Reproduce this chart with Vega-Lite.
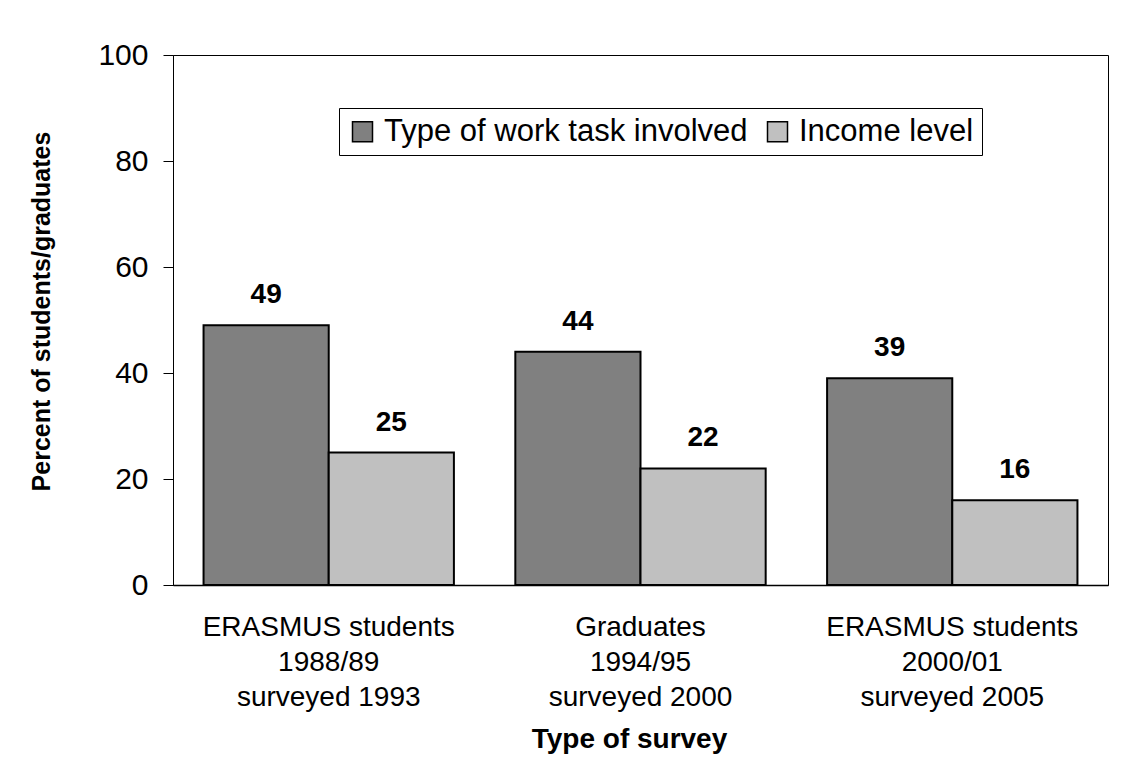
{
  "$schema": "https://vega.github.io/schema/vega-lite/v6.json",
  "autosize": {"type": "none"},
  "width": 935,
  "height": 530,
  "padding": {"left": 173, "top": 55, "right": 26, "bottom": 186},
  "background": "white",
  "config": {
    "font": "Liberation Sans",
    "view": {"stroke": "black", "strokeWidth": 1}
  },
  "data": {
    "values": [
      {"survey": "ERASMUS students|1988/89|surveyed 1993", "series": "Type of work task involved", "value": 49},
      {"survey": "ERASMUS students|1988/89|surveyed 1993", "series": "Income level", "value": 25},
      {"survey": "Graduates|1994/95|surveyed 2000", "series": "Type of work task involved", "value": 44},
      {"survey": "Graduates|1994/95|surveyed 2000", "series": "Income level", "value": 22},
      {"survey": "ERASMUS students|2000/01|surveyed 2005", "series": "Type of work task involved", "value": 39},
      {"survey": "ERASMUS students|2000/01|surveyed 2005", "series": "Income level", "value": 16}
    ]
  },
  "encoding": {
    "x": {
      "field": "survey", "type": "nominal", "sort": null,
      "scale": {"paddingInner": 0.197, "paddingOuter": 0.098},
      "axis": {
        "title": "Type of survey", "titleFontSize": 28, "titleFontWeight": "bold", "titleColor": "black",
        "titleX": 456, "titleY": 162, "titleBaseline": "alphabetic",
        "labelExpr": "split(datum.label, '|')", "labelAngle": 0, "labelFontSize": 28,
        "labelLineHeight": 35, "labelPadding": 28, "labelColor": "black", "labelLimit": 400,
        "ticks": false, "domainColor": "black", "domainWidth": 1.5
      }
    },
    "y": {
      "field": "value", "type": "quantitative",
      "scale": {"domain": [0, 100], "nice": false},
      "axis": {
        "title": "Percent of students/graduates", "titleFontSize": 25, "titleFontWeight": "bold", "titleColor": "black",
        "titleX": -132, "titleY": 256, "titleAngle": -90, "titleAlign": "center", "titleBaseline": "middle",
        "values": [0, 20, 40, 60, 80, 100], "labelFontSize": 30, "labelColor": "black",
        "labelPadding": 15, "tickSize": 10, "tickColor": "black", "domainColor": "black", "grid": false
      }
    },
    "xOffset": {"field": "series", "type": "nominal", "sort": ["Type of work task involved", "Income level"], "scale": {"paddingInner": 0, "paddingOuter": 0}}
  },
  "layer": [
    {
      "mark": {"type": "bar", "stroke": "black", "strokeWidth": 2},
      "encoding": {
        "color": {
          "field": "series", "type": "nominal",
          "sort": ["Type of work task involved", "Income level"],
          "scale": {"domain": ["Type of work task involved", "Income level"], "range": ["#808080", "#c0c0c0"]},
          "legend": {
            "title": null, "orient": "none", "legendX": 166, "legendY": 53,
            "direction": "horizontal", "columns": 2, "labelFontSize": 31, "labelColor": "black",
            "symbolType": "square", "symbolSize": 400, "symbolStrokeColor": "black", "symbolStrokeWidth": 1.5,
            "labelOffset": 6, "columnPadding": 14, "padding": 8, "strokeColor": "black", "fillColor": "white",
            "labelLimit": 500
          }
        }
      }
    },
    {
      "mark": {"type": "text", "fontSize": 28, "fontWeight": "bold", "baseline": "alphabetic", "dy": -22, "color": "black"},
      "encoding": {"text": {"field": "value", "type": "quantitative"}}
    }
  ]
}
